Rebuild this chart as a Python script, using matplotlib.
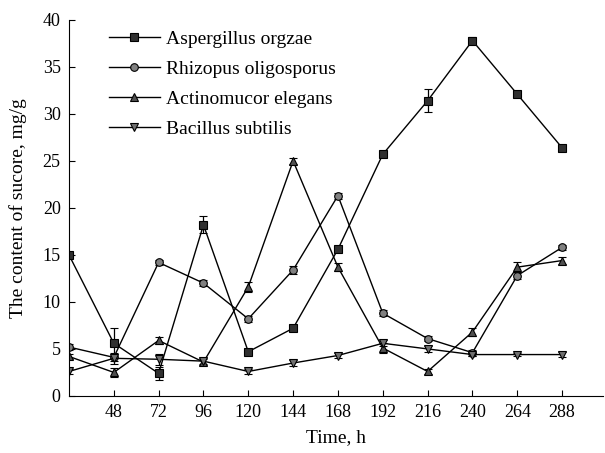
import matplotlib
matplotlib.use("Agg")
import matplotlib.pyplot as plt

time_h = [24, 48, 72, 96, 120, 144, 168, 192, 216, 240, 264, 288]
xtick_labels = [48, 72, 96, 120, 144, 168, 192, 216, 240, 264, 288]

aspergillus = [15.0, 5.6, 2.4, 18.2, 4.7, 7.2, 15.6, 25.7, 31.4, 37.8, 32.1, 26.4]
aspergillus_err = [0.3, 1.6, 0.7, 0.9, 0.3, 0.3, 0.3, 0.3, 1.2, 0.4, 0.3, 0.3]
rhizopus = [5.2, 4.1, 14.2, 12.0, 8.2, 13.4, 21.3, 8.8, 6.1, 4.6, 12.8, 15.8]
rhizopus_err = [0.3, 0.4, 0.3, 0.3, 0.3, 0.4, 0.3, 0.3, 0.3, 0.3, 0.4, 0.3]
actinomucor = [4.2, 2.5, 5.9, 3.6, 11.6, 25.0, 13.7, 5.1, 2.6, 6.8, 13.7, 14.4]
actinomucor_err = [0.3, 0.5, 0.4, 0.3, 0.5, 0.3, 0.4, 0.5, 0.3, 0.4, 0.5, 0.4]
bacillus = [2.6, 4.0, 3.9, 3.7, 2.6, 3.5, 4.3, 5.6, 5.0, 4.4, 4.4, 4.4]
bacillus_err = [0.3, 0.6, 0.6, 0.3, 0.3, 0.3, 0.3, 0.3, 0.3, 0.2, 0.2, 0.3]

series = [
    ("Aspergillus orgzae", aspergillus, aspergillus_err, "s", "#303030"),
    ("Rhizopus oligosporus", rhizopus, rhizopus_err, "o", "#808080"),
    ("Actinomucor elegans", actinomucor, actinomucor_err, "^", "#505050"),
    ("Bacillus subtilis", bacillus, bacillus_err, "v", "#707070"),
]

plt.rcParams['font.family'] = ['Liberation Serif', 'DejaVu Serif']
fig = plt.figure(figsize=(6.05, 4.53), dpi=100)
ax = fig.add_axes([0.114, 0.126, 0.883, 0.83])

for name, vals, err, mk, fc in series:
    ax.errorbar(time_h, vals, yerr=err, color="black", lw=1.0, marker=mk,
                markersize=5.5, markerfacecolor=fc, markeredgecolor="black",
                markeredgewidth=0.8, capsize=3, elinewidth=0.9, label=name)

ax.set_xlim(24, 310)
ax.set_ylim(0, 40)
ax.set_xticks(xtick_labels)
ax.set_yticks(range(0, 41, 5))
ax.tick_params(direction="in", length=4, labelsize=13, pad=6)
for s in ["top", "right"]:
    ax.spines[s].set_visible(False)
ax.set_xlabel("Time, h", fontsize=14, labelpad=6)
ax.set_ylabel("The content of sucore, mg/g", fontsize=14, labelpad=11)

handles, labels = ax.get_legend_handles_labels()
handles = [h[0] for h in handles]
ax.legend(handles, labels, loc="upper left", bbox_to_anchor=(0.075, 0.972),
          frameon=False, fontsize=14, handlelength=2.6, handletextpad=0.35,
          labelspacing=0.63, borderpad=0, borderaxespad=0)

fig.savefig("out.png", dpi=100)
